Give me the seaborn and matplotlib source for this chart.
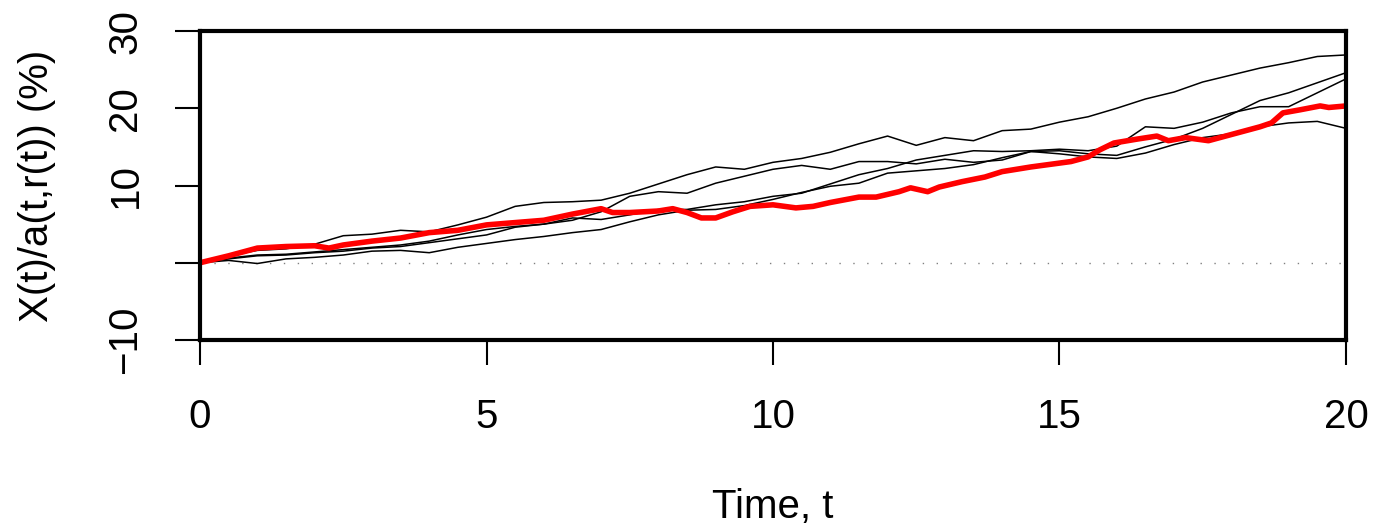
import numpy as np
import pandas as pd
import matplotlib
matplotlib.use("Agg")
import matplotlib.pyplot as plt
import seaborn as sns

# sample times of the simulated (black) paths
t_grid = [0, 0.5, 1, 1.5, 2, 2.5, 3, 3.5, 4, 4.5, 5, 5.5, 6, 6.5, 7, 7.5, 8, 8.5, 9, 9.5,
          10, 10.5, 11, 11.5, 12, 12.5, 13, 13.5, 14, 14.5, 15, 15.5, 16, 16.5, 17, 17.5,
          18, 18.5, 19, 19.5, 20]

path1 = [0, 0.9, 1.6, 1.8, 2.4, 3.5, 3.7, 4.2, 4.0, 4.9, 5.9, 7.3, 7.8, 7.9, 8.1, 9.0,
         10.2, 11.4, 12.4, 12.1, 13.0, 13.5, 14.3, 15.4, 16.4, 15.2, 16.2, 15.8, 17.1, 17.3,
         18.2, 18.9, 20.0, 21.2, 22.1, 23.4, 24.3, 25.2, 25.9, 26.7, 26.9]
path2 = [0, 0.6, 1.0, 1.1, 1.4, 1.7, 2.0, 2.3, 2.8, 3.6, 4.3, 4.7, 5.0, 5.5, 6.6, 8.6,
         9.2, 9.0, 10.3, 11.2, 12.1, 12.6, 12.1, 13.1, 13.1, 12.8, 13.4, 13.0, 13.3, 14.4,
         14.5, 14.1, 13.9, 15.0, 16.0, 17.4, 19.2, 21.0, 22.0, 23.3, 24.6]
path3 = [0, 0.5, 0.9, 1.0, 1.3, 1.5, 1.9, 2.1, 2.6, 3.1, 3.6, 4.6, 5.0, 5.8, 5.6, 6.2,
         6.9, 6.9, 7.5, 7.9, 8.6, 9.0, 10.2, 11.4, 12.2, 13.3, 13.9, 14.5, 14.4, 14.5,
         14.7, 14.5, 15.1, 17.6, 17.4, 18.2, 19.4, 20.2, 20.2, 22.0, 23.8]
path4 = [0, 0.3, -0.1, 0.5, 0.7, 1.0, 1.5, 1.6, 1.3, 2.0, 2.5, 3.0, 3.4, 3.9, 4.3, 5.3,
         6.2, 6.8, 6.9, 7.4, 8.2, 9.1, 9.9, 10.3, 11.6, 11.9, 12.2, 12.7, 13.6, 14.4,
         14.1, 13.7, 13.5, 14.2, 15.3, 16.2, 16.7, 17.6, 18.1, 18.3, 17.4]

# highlighted (red) path
t_red = [0, 0.5, 1, 1.5, 2, 2.25, 2.5, 3, 3.5, 4, 4.5, 5, 5.5, 6, 6.5, 7, 7.2, 7.5, 8,
         8.25, 8.5, 8.75, 9, 9.3, 9.6, 10, 10.4, 10.7, 11, 11.5, 11.8, 12.2, 12.4, 12.7,
         12.9, 13.3, 13.7, 14, 14.5, 14.9, 15.2, 15.5, 15.7, 15.95, 16.35, 16.7, 16.9,
         17.2, 17.6, 17.9, 18.2, 18.5, 18.7, 18.9, 19.2, 19.55, 19.7, 20]
red = [0, 0.9, 1.9, 2.1, 2.2, 1.9, 2.3, 2.8, 3.2, 3.9, 4.2, 4.9, 5.2, 5.5, 6.3, 7.0, 6.5,
       6.5, 6.7, 7.0, 6.5, 5.8, 5.8, 6.6, 7.3, 7.5, 7.1, 7.3, 7.8, 8.5, 8.5, 9.2, 9.7, 9.2,
       9.8, 10.5, 11.1, 11.8, 12.4, 12.8, 13.1, 13.7, 14.6, 15.5, 16.0, 16.4, 15.8, 16.2,
       15.8, 16.4, 17.0, 17.6, 18.1, 19.4, 19.8, 20.3, 20.1, 20.3]

x_ticks = [0, 5, 10, 15, 20]
y_ticks = [-10, 0, 10, 20, 30]
y_ticklabels = ["\u221210", "", "10", "20", "30"]

paths = pd.DataFrame({
    "t": t_grid * 4,
    "value": path1 + path2 + path3 + path4,
    "path": sum([[k] * len(t_grid) for k in range(4)], []),
})
red_df = pd.DataFrame({"t": t_red, "value": red})

sns.set_style("ticks")
plt.rcParams["font.family"] = ["Liberation Sans", "DejaVu Sans"]
plt.rcParams["text.color"] = "black"
plt.rcParams["axes.labelcolor"] = "black"
plt.rcParams["xtick.color"] = "black"
plt.rcParams["ytick.color"] = "black"

fig = plt.figure(figsize=(13.73, 5.30), dpi=100)
ax = fig.add_axes([0.1457, 0.3585, 0.8346, 0.583])

# dotted zero line
ax.plot([0, 20], [0, 0], color="gray", lw=1.0, linestyle=(0, (1, 9)))

sns.lineplot(data=paths, x="t", y="value", units="path", estimator=None,
             color="black", lw=1.1, sort=False, ax=ax, legend=False)
sns.lineplot(data=red_df, x="t", y="value", color="#ff0000", lw=4.0,
             sort=False, ax=ax, legend=False)

ax.set_xlim(0, 20)
ax.set_ylim(-10, 30)
ax.set_xticks(x_ticks)
ax.set_xticklabels([str(v) for v in x_ticks])
ax.set_yticks(y_ticks)
ax.set_yticklabels(y_ticklabels, rotation=90, va="center")

for s in ax.spines.values():
    s.set_linewidth(3)
    s.set_color("black")
    s.set_visible(True)

ax.tick_params(axis="both", direction="out", length=18, width=1.5,
               colors="black", labelcolor="black", labelsize=29)
ax.tick_params(axis="x", pad=24)
ax.tick_params(axis="y", pad=22)

ax.set_xlabel("Time, t", fontsize=29, labelpad=37, color="black")
ax.set_ylabel("X(t)/a(t,r(t)) (%)", fontsize=29, labelpad=36, color="black")

fig.savefig("out.png", dpi=100)
